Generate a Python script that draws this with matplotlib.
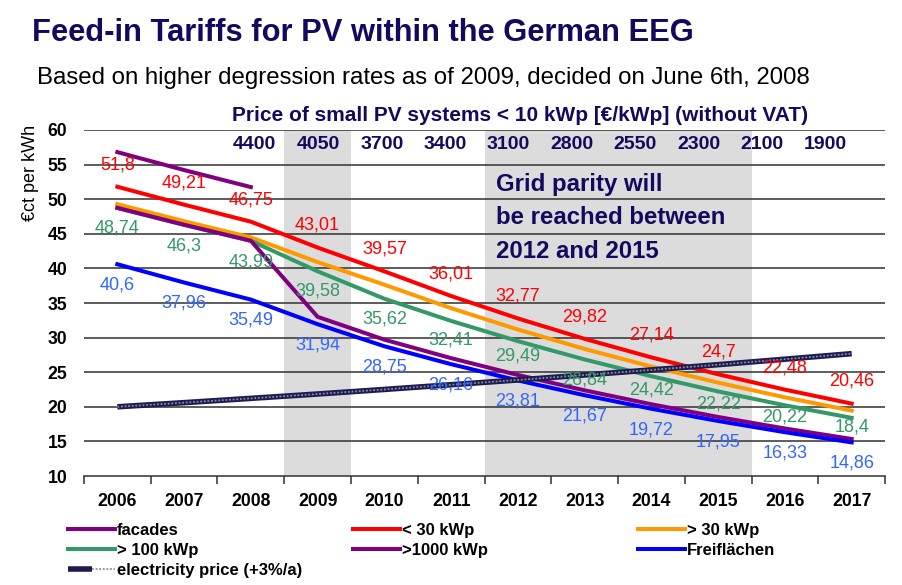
import numpy as np
import matplotlib.pyplot as plt
from matplotlib.legend_handler import HandlerTuple

plt.rcParams['font.family'] = ['Liberation Sans', 'DejaVu Sans']

years = [str(y) for y in range(2006, 2018)]

facades = [56.8, 54.21, 51.75]
under30 = [51.8, 49.21, 46.75, 43.01, 39.57, 36.01, 32.77, 29.82, 27.14, 24.7, 22.48, 20.46]
over30 = [49.28, 46.82, 44.48, 40.91, 37.64, 34.25, 31.17, 28.36, 25.81, 23.49, 21.37, 19.45]
over100 = [48.74, 46.3, 43.99, 39.58, 35.62, 32.41, 29.49, 26.84, 24.42, 22.22, 20.22, 18.4]
over1000 = [48.74, 46.3, 43.99, 33.0, 29.7, 27.03, 24.6, 22.38, 20.37, 18.53, 16.87, 15.35]
freiflaechen = [40.6, 37.96, 35.49, 31.94, 28.75, 26.16, 23.81, 21.67, 19.72, 17.95, 16.33, 14.86]
electricity = [20.0, 20.6, 21.22, 21.85, 22.51, 23.19, 23.88, 24.6, 25.33, 26.09, 26.88, 27.68]

prices = ['4400', '4050', '3700', '3400', '3100', '2800', '2550', '2300', '2100', '1900']

# label offsets (in ct) for the green series
green_off = [2.85, 3.1, 3.05, 2.9, 2.95, 2.75, 2.2, 3.0, 2.0, 1.8, 1.75, 1.3]

navy = '#120a5e'
purple = '#800080'
red = '#ff0000'
orange = '#ff9900'
green = '#339966'
blue = '#0000ff'

fig = plt.figure(figsize=(9.02, 5.85), dpi=100)
ax = fig.add_axes([0.0931, 0.1863, 0.8881, 0.5915])
x = np.arange(len(years))

# shaded periods
ax.axvspan(2.5, 3.5, color='#dcdcdc', zorder=0, lw=0)
ax.axvspan(5.5, 9.5, color='#dcdcdc', zorder=0, lw=0)

for yv in range(15, 61, 5):
    ax.axhline(yv, color='#303030', lw=1.1, zorder=1)

lw = 2.9
l_fac, = ax.plot(x[:3], facades, color=purple, lw=lw, zorder=3)
l_u30, = ax.plot(x, under30, color=red, lw=lw, zorder=3)
l_o30, = ax.plot(x, over30, color=orange, lw=lw, zorder=3)
l_o100, = ax.plot(x, over100, color=green, lw=lw, zorder=3)
l_o1000, = ax.plot(x, over1000, color=purple, lw=lw, zorder=3)
l_frei, = ax.plot(x, freiflaechen, color=blue, lw=lw, zorder=3)
e1, = ax.plot(x, electricity, color='#1c1c50', lw=4, zorder=4, solid_capstyle='butt')
e2, = ax.plot(x, electricity, color='#8a8aa8', lw=1.3, ls=(0, (1, 1)), zorder=5)

lab_kw = dict(ha='center', va='center', fontsize=13, zorder=6)
for i, v in enumerate(under30):
    ax.text(i, v + 3.2, f'{v:g}'.replace('.', ','), color=red, **lab_kw)
for i, v in enumerate(over100):
    ax.text(i, v - green_off[i], f'{v:g}'.replace('.', ','), color=green, **lab_kw)
for i, v in enumerate(freiflaechen):
    ax.text(i, v - 3.0, f'{v:g}'.replace('.', ','), color='#3366ff', **lab_kw)

# price row (spaced a bit tighter than the year columns)
for i, p in enumerate(prices):
    ax.text(2.06 + 0.95 * i, 57.9, p, color=navy, ha='center', va='center',
            fontsize=14, fontweight='bold', zorder=6)
ax.text(6.03, 62.1, 'Price of small PV systems < 10 kWp [€/kWp] (without VAT)',
        color=navy, ha='center', va='center', fontsize=15, fontweight='bold',
        clip_on=False)

for txt, yv in [('Grid parity will', 52.1), ('be reached between', 47.3), ('2012 and 2015', 42.4)]:
    ax.text(5.67, yv, txt, color=navy, ha='left', va='center',
            fontsize=17.3, fontweight='bold')

ax.set_xlim(-0.5, 11.5)
ax.set_ylim(10, 60)
ax.set_xticks(x)
ax.set_xticklabels(years, fontweight='bold', fontsize=12.7)
ax.set_xticks(np.arange(-0.5, 12, 1), minor=True)
ax.tick_params(axis='x', which='major', length=0, pad=12)
ax.tick_params(axis='x', which='minor', length=6, width=1.1, color='#303030', direction='out')
ax.set_yticks(range(10, 61, 5))
ax.set_yticklabels([str(v) for v in range(10, 61, 5)], fontweight='bold', fontsize=12.7)
ax.tick_params(axis='y', length=0, pad=12)
for s in ['top', 'right', 'left']:
    ax.spines[s].set_visible(False)
ax.spines['bottom'].set_color('#303030')
ax.spines['bottom'].set_linewidth(1.1)

fig.text(0.034, 0.705, '€ct per kWh', rotation=90, ha='center', va='center', fontsize=13)

fig.text(0.035, 0.944, 'Feed-in Tariffs for PV within the German EEG', color=navy,
         fontsize=22.2, fontweight='bold', ha='left', va='center')
fig.text(0.041, 0.867, 'Based on higher degression rates as of 2009, decided on June 6th, 2008',
         color='black', fontsize=17.3, ha='left', va='center')

leg_kw = dict(loc='upper left', frameon=False, handlelength=2.82, handletextpad=0.12,
              labelspacing=0.3, borderaxespad=0, borderpad=0,
              prop={'weight': 'bold', 'size': 12})
fig.legend([l_fac, l_o100, (e1, e2)], ['facades', '> 100 kWp', 'electricity price (+3%/a)'],
           bbox_to_anchor=(0.0755, 0.106), handler_map={tuple: HandlerTuple(ndivide=None, pad=0)},
           **leg_kw)
fig.legend([l_u30, l_o1000], ['< 30 kWp', '>1000 kWp'], bbox_to_anchor=(0.3915, 0.106), **leg_kw)
fig.legend([l_o30, l_frei], ['> 30 kWp', 'Freiflächen'], bbox_to_anchor=(0.7075, 0.106), **leg_kw)

fig.savefig('out.png', dpi=100)
